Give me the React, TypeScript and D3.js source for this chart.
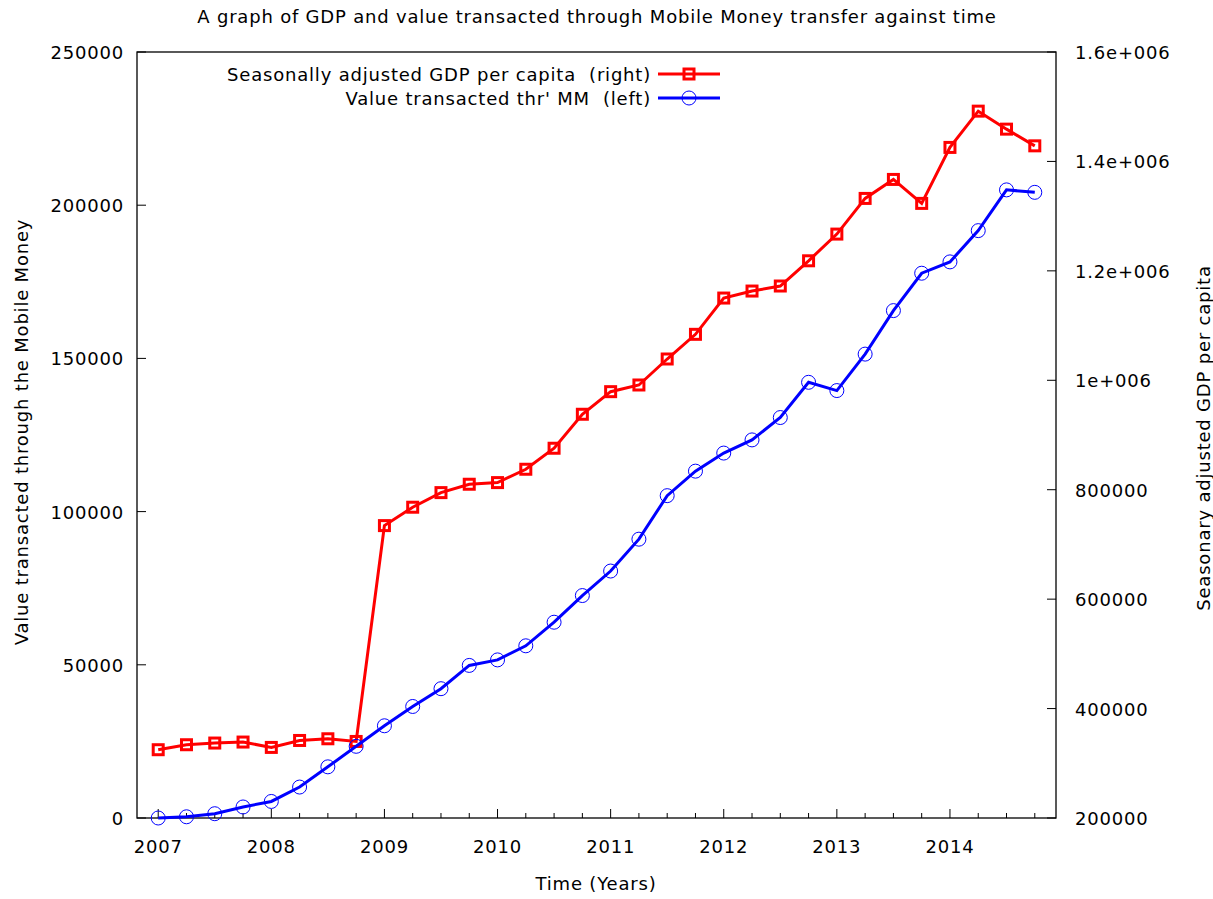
import React from "react";
import * as d3 from "d3";

const quarters: number[] = [
  2007, 2007.25, 2007.5, 2007.75, 2008, 2008.25, 2008.5, 2008.75,
  2009, 2009.25, 2009.5, 2009.75, 2010, 2010.25, 2010.5, 2010.75,
  2011, 2011.25, 2011.5, 2011.75, 2012, 2012.25, 2012.5, 2012.75,
  2013, 2013.25, 2013.5, 2013.75, 2014, 2014.25, 2014.5, 2014.75,
];

// Value transacted thr' MM (left axis)
const mmValue: number[] = [
  0, 400, 1400, 3600, 5400, 10100, 16700, 23400,
  30100, 36400, 42200, 49800, 51600, 56200, 63900, 72600,
  80600, 91000, 105200, 113200, 119100, 123400, 130700, 142200,
  139500, 151400, 165600, 177800, 181500, 191700, 205000, 204200,
];

// Seasonally adjusted GDP per capita (right axis)
const gdpValue: number[] = [
  324800, 333900, 337000, 338800, 329000, 341700, 344800, 339900,
  734400, 768000, 794700, 810000, 813000, 837400, 875800, 937900,
  979200, 991400, 1038900, 1084000, 1150300, 1163100, 1172300, 1218400,
  1267200, 1332400, 1367100, 1323300, 1425600, 1491900, 1459000, 1428500,
];

const xTickYears: number[] = [2007, 2008, 2009, 2010, 2011, 2012, 2013, 2014];
const leftTicks: number[] = [0, 50000, 100000, 150000, 200000, 250000];
const leftTickLabels: string[] = ["0", "50000", "100000", "150000", "200000", "250000"];
const rightTicks: number[] = [200000, 400000, 600000, 800000, 1000000, 1200000, 1400000, 1600000];
const rightTickLabels: string[] = ["200000", "400000", "600000", "800000", "1e+006", "1.2e+006", "1.4e+006", "1.6e+006"];

const W = 1213;
const H = 899;
const L = 137;
const R = 1056;
const T = 52;
const B = 818;
const FONT = "'DejaVu Sans', Verdana, sans-serif";
const FS = 18;
const LS = 0.8;

export default function App() {
  const x = d3.scaleLinear().domain([2006.8125, 2014.9375]).range([L, R]);
  const yL = d3.scaleLinear().domain([0, 250000]).range([B, T]);
  const yR = d3.scaleLinear().domain([200000, 1600000]).range([B, T]);

  const lineMM = d3.line<number>().x((_, i) => x(quarters[i])).y((d) => yL(d));
  const lineGDP = d3.line<number>().x((_, i) => x(quarters[i])).y((d) => yR(d));

  const minorTicks: number[] = [];
  for (let yr = 2007; yr <= 2014; yr++) {
    for (const q of [0.25, 0.5, 0.75]) minorTicks.push(yr + q);
  }

  const legX1 = 658;
  const legX2 = 720;
  const legTextX = 651;
  const leg1Y = 74;
  const leg2Y = 98;

  return (
    <svg width={W} height={H} style={{ position: "absolute", left: 0, top: 0, background: "#fff" }}
      fontFamily={FONT} letterSpacing={LS}>
      <rect x={0} y={0} width={W} height={H} fill="#fff" />
      {/* title */}
      <text x={597} y={23} textAnchor="middle" fontSize={FS} fill="#000">
        A graph of GDP and value transacted through Mobile Money transfer against time
      </text>

      {/* x ticks */}
      {xTickYears.map((t) => (
        <g key={"xt" + t}>
          <line x1={x(t)} x2={x(t)} y1={B} y2={B - 9} stroke="#000" strokeWidth={1} />
          <text x={x(t)} y={853} textAnchor="middle" fontSize={FS} fill="#000">{t}</text>
        </g>
      ))}
      {minorTicks.map((t) => (
        <line key={"mt" + t} x1={x(t)} x2={x(t)} y1={B} y2={B - 5} stroke="#000" strokeWidth={1} />
      ))}

      {/* left ticks */}
      {leftTicks.map((t, i) => (
        <g key={"lt" + t}>
          <line x1={L} x2={L + 9} y1={yL(t)} y2={yL(t)} stroke="#000" strokeWidth={1} />
          <text x={L - 13} y={yL(t) + 7} textAnchor="end" fontSize={FS} fill="#000">{leftTickLabels[i]}</text>
        </g>
      ))}

      {/* right ticks */}
      {rightTicks.map((t, i) => (
        <g key={"rt" + t}>
          <line x1={R - 9} x2={R} y1={yR(t)} y2={yR(t)} stroke="#000" strokeWidth={1} />
          <text x={R + 19} y={yR(t) + 7} textAnchor="start" fontSize={FS} fill="#000">{rightTickLabels[i]}</text>
        </g>
      ))}

      {/* frame */}
      <rect x={L} y={T} width={R - L} height={B - T} fill="none" stroke="#000" strokeWidth={1.3} />

      {/* axis titles */}
      <text x={596} y={890} textAnchor="middle" fontSize={FS} fill="#000">Time (Years)</text>
      <text transform={`translate(28,432) rotate(-90)`} textAnchor="middle" fontSize={FS} fill="#000">
        Value transacted through the Mobile Money
      </text>
      <text transform={`translate(1210,438) rotate(-90)`} textAnchor="middle" fontSize={FS} fill="#000">
        Seasonary adjusted GDP per capita
      </text>

      {/* GDP series */}
      <path d={lineGDP(gdpValue) || ""} fill="none" stroke="#ff0000" strokeWidth={3} strokeLinejoin="miter" />
      {gdpValue.map((v, i) => (
        <rect key={"sq" + i} x={x(quarters[i]) - 5} y={yR(v) - 5} width={10} height={10}
          fill="none" stroke="#ff0000" strokeWidth={3} />
      ))}

      {/* MM series */}
      <path d={lineMM(mmValue) || ""} fill="none" stroke="#0000ff" strokeWidth={3} strokeLinejoin="miter" />
      {mmValue.map((v, i) => (
        <circle key={"c" + i} cx={x(quarters[i])} cy={yL(v)} r={7} fill="none" stroke="#0000ff" strokeWidth={1} />
      ))}

      {/* legend */}
      <text x={legTextX} y={leg1Y + 6.5} textAnchor="end" fontSize={FS} fill="#000" style={{ whiteSpace: "pre" }}>
        {"Seasonally adjusted GDP per capita  (right)"}
      </text>
      <line x1={legX1} x2={legX2} y1={leg1Y} y2={leg1Y} stroke="#ff0000" strokeWidth={3} />
      <rect x={(legX1 + legX2) / 2 - 5} y={leg1Y - 5} width={10} height={10} fill="none" stroke="#ff0000" strokeWidth={3} />

      <text x={legTextX} y={leg2Y + 6.5} textAnchor="end" fontSize={FS} fill="#000" style={{ whiteSpace: "pre" }}>
        {"Value transacted thr' MM  (left)"}
      </text>
      <line x1={legX1} x2={legX2} y1={leg2Y} y2={leg2Y} stroke="#0000ff" strokeWidth={3} />
      <circle cx={(legX1 + legX2) / 2} cy={leg2Y} r={7} fill="none" stroke="#0000ff" strokeWidth={1} />
    </svg>
  );
}
